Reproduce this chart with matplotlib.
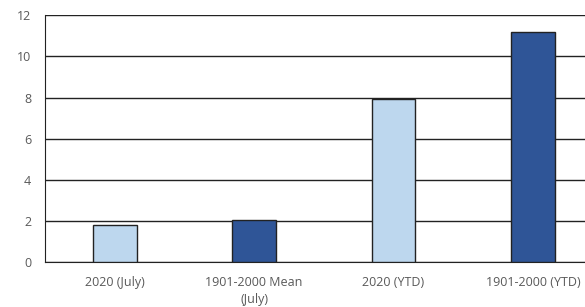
import matplotlib
matplotlib.use("Agg")
import matplotlib.pyplot as plt

categories = ["2020 (July)", "1901-2000 Mean\n(July)", "2020 (YTD)", "1901-2000 (YTD)"]
values = [1.81, 2.05, 7.94, 11.19]
colors = ["#BDD7EE", "#2F5597", "#BDD7EE", "#2F5597"]
yticks = [0, 2, 4, 6, 8, 10, 12]

plt.rcParams["font.family"] = ["Open Sans", "DejaVu Sans"]

fig = plt.figure(figsize=(5.85, 3.07), dpi=100)
ax = fig.add_axes([0.077, 0.1456, 0.953, 0.805])

x = range(len(categories))
ax.bar(x, values, width=0.315, color=colors, edgecolor="#222222", linewidth=1.0, zorder=3)

ax.set_xlim(-0.5, 3.5)
ax.set_ylim(0, 12)
ax.set_yticks(yticks)
ax.set_xticks(list(x))
ax.set_xticklabels(categories, linespacing=1.4)
ax.yaxis.grid(True, color="#222222", linewidth=1.0, zorder=0)
ax.set_axisbelow(True)

for side in ["top", "right"]:
    ax.spines[side].set_visible(False)
ax.spines["left"].set_color("#222222")
ax.spines["bottom"].set_color("#222222")
ax.tick_params(axis="both", length=0, labelsize=9, labelcolor="#595959")
ax.tick_params(axis="x", pad=10)
ax.tick_params(axis="y", pad=10)

fig.savefig("out.png", dpi=100)
